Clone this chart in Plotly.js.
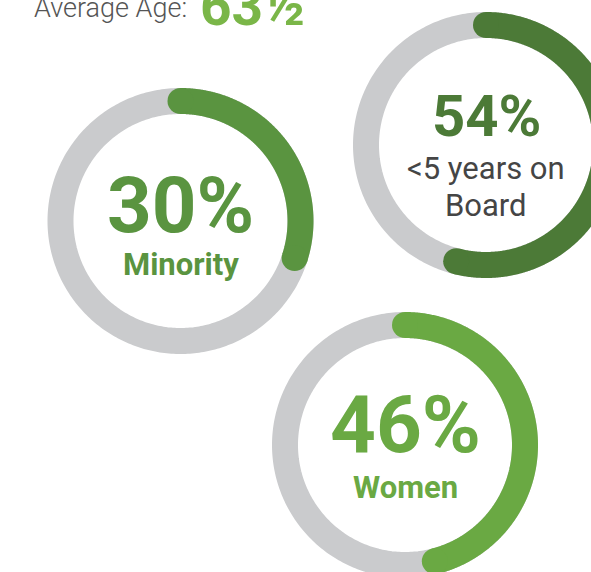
<!DOCTYPE html>
<html>
<head>
<meta charset="utf-8">
<script src="https://cdn.plot.ly/plotly-3.0.1.min.js"></script>
<style>html,body{margin:0;padding:0;background:#fff;}#chart{width:591px;height:572px;}</style>
</head>
<body>
<div id="chart"></div>
<script>
// ---- data ----
const categories = ['Minority', '<5 years on Board', 'Women'];
const percentValues = [30, 54, 46];
const labelLines = [['Minority'], ['<5 years on', 'Board'], ['Women']];
const averageAgeLabel = 'Average Age:';
const averageAgeValue = '63½';

// ---- layout / style config ----
const W = 591, H = 572;
const rings = [
  {cx: 180.5, cy: 221, color: '#5a9440', labelColor: '#5a9440', labelBold: true, labelSize: 31, pctSize: 78, pctY: 205, labelY: [264]},
  {cx: 486, cy: 145, color: '#4c7a37', labelColor: '#454545', labelBold: false, labelSize: 31, pctSize: 58, pctY: 116, labelY: [168, 205]},
  {cx: 405, cy: 445, color: '#6aa943', labelColor: '#6aa943', labelBold: true, labelSize: 31, pctSize: 80, pctY: 425, labelY: [487]}
];
const ringRadius = 120;   // centerline radius
const ringWidth = 26;
const grey = '#cacbcd';
const FONT = 'Roboto, "Open Sans", "DejaVu Sans", sans-serif';

function arc(cx, cy, r, fracStart, fracEnd) {
  const xs = [], ys = [];
  const n = 360;
  for (let i = 0; i <= n; i++) {
    const t = (fracStart + (fracEnd - fracStart) * i / n) * 2 * Math.PI;
    xs.push(cx + r * Math.sin(t));
    ys.push(cy - r * Math.cos(t));
  }
  return {xs, ys};
}

const traces = [];
const annotations = [];
percentValues.forEach((v, i) => {
  const g = rings[i];
  const full = arc(g.cx, g.cy, ringRadius, 0, 1);
  traces.push({x: full.xs, y: full.ys, mode: 'lines', line: {color: grey, width: ringWidth, simplify: false}, hoverinfo: 'skip', name: categories[i] + ' rest'});
  const a = arc(g.cx, g.cy, ringRadius, 0, v / 100);
  traces.push({x: a.xs, y: a.ys, mode: 'lines', line: {color: g.color, width: ringWidth, simplify: false}, hoverinfo: 'skip', name: categories[i]});
  traces.push({x: [a.xs[0], a.xs[a.xs.length - 1]], y: [a.ys[0], a.ys[a.ys.length - 1]], mode: 'markers',
    marker: {color: g.color, size: ringWidth, line: {width: 0}}, hoverinfo: 'skip', name: categories[i] + ' caps'});
  annotations.push({x: g.cx, y: g.pctY, xref: 'x', yref: 'y', text: '<b>' + v + '%</b>', showarrow: false,
    xanchor: 'center', yanchor: 'middle', font: {family: FONT, size: g.pctSize, color: g.color}});
  labelLines[i].forEach((ln, j) => {
    const t = ln.replace(/</g, '&lt;');
    annotations.push({x: g.cx, y: g.labelY[j], xref: 'x', yref: 'y', text: g.labelBold ? '<b>' + t + '</b>' : t, showarrow: false,
      xanchor: 'center', yanchor: 'middle', font: {family: FONT, size: g.labelSize, color: g.labelColor}});
  });
});

annotations.push({x: 189, y: 8, xref: 'x', yref: 'y', text: averageAgeLabel, showarrow: false, xanchor: 'right', yanchor: 'middle',
  font: {family: FONT, size: 27, color: '#555555', weight: 300}});
annotations.push({x: 198, y: 6, xref: 'x', yref: 'y', text: '<b>' + averageAgeValue + '</b>', showarrow: false, xanchor: 'left', yanchor: 'middle',
  font: {family: FONT, size: 55, color: '#7ab648'}});

const layout = {
  width: W, height: H,
  margin: {l: 0, r: 0, t: 0, b: 0, pad: 0},
  paper_bgcolor: '#ffffff', plot_bgcolor: '#ffffff',
  showlegend: false,
  xaxis: {range: [0, W], visible: false, fixedrange: true},
  yaxis: {range: [H, 0], visible: false, fixedrange: true},
  annotations: annotations
};
Plotly.newPlot('chart', traces, layout, {staticPlot: true, displayModeBar: false});
</script>
</body>
</html>
